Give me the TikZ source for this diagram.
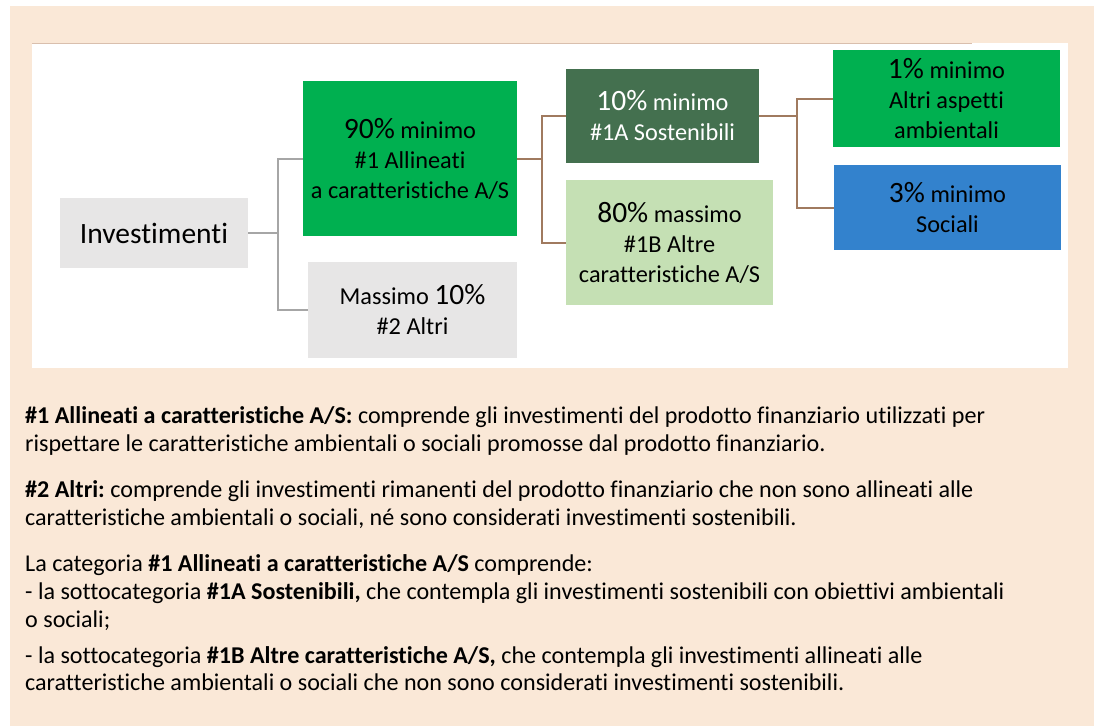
\documentclass[tikz,border=0pt]{standalone}
\usepackage{fontspec}
\setmainfont{Carlito}[Ligatures={NoCommon}]
\frenchspacing
\definecolor{peach}{HTML}{FAE8D7}
\definecolor{panelline}{HTML}{D9BFAD}
\definecolor{lgray}{HTML}{E7E6E6}
\definecolor{mgreen}{HTML}{00B050}
\definecolor{dgreen}{HTML}{44704F}
\definecolor{lgreen}{HTML}{C5E0B4}
\definecolor{mblue}{HTML}{3382CD}
\definecolor{conngray}{HTML}{A6A6A6}
\definecolor{connbrown}{HTML}{A07A5F}
\newcommand{\pct}[1]{{\fontsize{29.5}{31}\selectfont #1}}
\tikzset{
  box/.style={inner sep=0pt, align=center, font=\fontsize{24.3}{30}\selectfont},
  gline/.style={draw=conngray, line width=2pt},
  bline/.style={draw=connbrown, line width=2pt},
  body/.style={anchor=base west, inner sep=0pt, font=\fontsize{24.1}{28}\selectfont}
}
\begin{document}
\begin{tikzpicture}[x=1pt,y=-1pt]
\useasboundingbox (0,0) rectangle (1094,726);
\fill[white] (0,0) rectangle (1094,726);
\fill[peach] (10,6) rectangle (1094,726);
\fill[white] (32,43) rectangle (1068,368);
\draw[panelline, line width=1.5pt] (32,43.5) -- (972,43.5);

\node[box, fill=lgray, minimum width=188pt, minimum height=70pt, font=\fontsize{29.5}{31}\selectfont] (inv) at (154,233) {Investimenti};
\node[box, fill=mgreen, minimum width=214pt, minimum height=155pt] (a) at (410,158.5) {\pct{90\%} minimo\\ \#1 Allineati\\ a caratteristiche A/S};
\node[box, fill=lgray, minimum width=209pt, minimum height=96pt] (b) at (412.5,310) {Massimo \pct{10\%}\\ \#2 Altri};
\node[box, fill=dgreen, text=white, minimum width=193pt, minimum height=94pt] (c) at (662.5,116) {\pct{10\%} minimo\\ \#1A Sostenibili};
\node[box, fill=lgreen, minimum width=207pt, minimum height=125pt] (d) at (669.5,242.5) {\pct{80\%} massimo\\ \#1B Altre\\ caratteristiche A/S};
\node[box, fill=mgreen, minimum width=227pt, minimum height=97pt] (e) at (946.5,98.5) {\pct{1\%} minimo\\ Altri aspetti\\ ambientali};
\node[box, fill=mblue, minimum width=227pt, minimum height=85pt] (f) at (947.5,207.5) {\pct{3\%} minimo\\ Sociali};

\draw[gline] (inv.east) -- ++(30,0) coordinate (j1);
\draw[gline] (j1) |- (a.west);
\draw[gline] (j1) |- (b.west);
\draw[bline] (a.east) -- ++(25,0) coordinate (j2);
\draw[bline] (j2) |- (c.west);
\draw[bline] (j2) |- (d.west);
\draw[bline] (c.east) -- ++(38,0) coordinate (j3);
\draw[bline] (j3) |- (e.west);
\draw[bline] (j3) |- (f.west);

\node[body] (t1) at (25,423) {\textbf{\#1 Allineati a caratteristiche A/S:} comprende gli investimenti del prodotto finanziario utilizzati per};
\node[body] (t2) at (25,451) {rispettare le caratteristiche ambientali o sociali promosse dal prodotto finanziario.};
\node[body] (t3) at (25,497) {\textbf{\#2 Altri:} comprende gli investimenti rimanenti del prodotto finanziario che non sono allineati alle};
\node[body] (t4) at (25,525) {caratteristiche ambientali o sociali, né sono considerati investimenti sostenibili.};
\node[body] (t5) at (25,571) {La categoria \textbf{\#1 Allineati a caratteristiche A/S} comprende:};
\node[body] (t6) at (25,599) {- la sottocategoria \textbf{\#1A Sostenibili,} che contempla gli investimenti sostenibili con obiettivi ambientali};
\node[body] (t7) at (25,627) {o sociali;};
\node[body] (t8) at (25,663) {- la sottocategoria \textbf{\#1B Altre caratteristiche A/S,} che contempla gli investimenti allineati alle};
\node[body] (t9) at (25,690) {caratteristiche ambientali o sociali che non sono considerati investimenti sostenibili.};
\end{tikzpicture}
\end{document}
